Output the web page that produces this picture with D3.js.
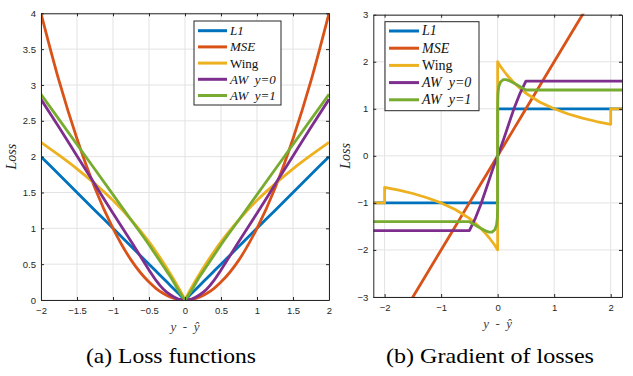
<!DOCTYPE html>
<html>
<head>
<meta charset="utf-8">
<script src="https://cdn.jsdelivr.net/npm/d3@7"></script>
<style>
  body { margin: 0; background: #fff; }
  .tick text { font-family: "Liberation Sans", Arial, sans-serif; font-size: 9.5px; fill: #262626; }
  .serif { font-family: "Liberation Serif", "Times New Roman", serif; }
</style>
</head>
<body>
<div id="chart-area"></div>
<script>
/*
*    two panels: loss functions and their gradients
*/

// series names / colours (MATLAB default order)
var seriesNames = ["L1", "MSE", "Wing", "AW  y=0", "AW  y=1"];
var seriesItalic = [true, true, false, true, true];
var colors = ["#0072BD", "#D95319", "#EDB120", "#7E2F8E", "#77AC30"];

// (a) loss values
var lossX    = [-2, -1.75, -1.5, -1.25, -1, -0.75, -0.5, -0.4, -0.3, -0.2, -0.1, -0.05, 0, 0.05, 0.1, 0.2, 0.3, 0.4, 0.5, 0.75, 1, 1.25, 1.5, 1.75, 2];
var lossL1   = [2, 1.75, 1.5, 1.25, 1, 0.75, 0.5, 0.4, 0.3, 0.2, 0.1, 0.05, 0, 0.05, 0.1, 0.2, 0.3, 0.4, 0.5, 0.75, 1, 1.25, 1.5, 1.75, 2];
var lossMSE  = [4, 3.06, 2.25, 1.56, 1, 0.56, 0.25, 0.16, 0.09, 0.04, 0.01, 0.0025, 0, 0.0025, 0.01, 0.04, 0.09, 0.16, 0.25, 0.56, 1, 1.56, 2.25, 3.06, 4];
var lossWing = [2.2, 2.02, 1.83, 1.62, 1.39, 1.12, 0.81, 0.67, 0.52, 0.36, 0.19, 0.1, 0, 0.1, 0.19, 0.36, 0.52, 0.67, 0.81, 1.12, 1.39, 1.62, 1.83, 2.02, 2.2];
var lossAW0  = [2.8, 2.41, 2.01, 1.61, 1.21, 0.82, 0.42, 0.27, 0.15, 0.07, 0.016, 0.004, 0, 0.004, 0.016, 0.07, 0.15, 0.27, 0.42, 0.82, 1.21, 1.61, 2.01, 2.41, 2.8];
var lossAW1  = [2.87, 2.52, 2.17, 1.82, 1.47, 1.12, 0.77, 0.62, 0.47, 0.32, 0.15, 0.07, 0, 0.07, 0.15, 0.32, 0.47, 0.62, 0.77, 1.12, 1.47, 1.82, 2.17, 2.52, 2.87];

// (b) gradient values (repeated x = jump)
var gradX    = [-2.2, -2, -2, -1.75, -1.5, -1.25, -1, -0.75, -0.5, -0.4, -0.3, -0.2, -0.15, -0.1, -0.05, -0.02, -0.01, -0.005, -0.001, 0,
                0, 0.001, 0.005, 0.01, 0.02, 0.05, 0.1, 0.15, 0.2, 0.3, 0.4, 0.5, 0.75, 1, 1.25, 1.5, 1.75, 2, 2, 2.2];
var gradL1   = [-1, -1, -1, -1, -1, -1, -1, -1, -1, -1, -1, -1, -1, -1, -1, -1, -1, -1, -1, -1,
                1, 1, 1, 1, 1, 1, 1, 1, 1, 1, 1, 1, 1, 1, 1, 1, 1, 1, 1, 1];
var gradMSE  = [-4.4, -4, -4, -3.5, -3, -2.5, -2, -1.5, -1, -0.8, -0.6, -0.4, -0.3, -0.2, -0.1, -0.04, -0.02, -0.01, -0.002, 0,
                0, 0.002, 0.01, 0.02, 0.04, 0.1, 0.2, 0.3, 0.4, 0.6, 0.8, 1, 1.5, 2, 2.5, 3, 3.5, 4, 4, 4.4];
var gradWing = [-1, -1, -0.67, -0.73, -0.8, -0.89, -1, -1.14, -1.33, -1.43, -1.54, -1.67, -1.74, -1.82, -1.9, -1.96, -1.98, -1.99, -2, -2,
                2, 2, 1.99, 1.98, 1.96, 1.9, 1.82, 1.74, 1.67, 1.54, 1.43, 1.33, 1.14, 1, 0.89, 0.8, 0.73, 0.67, 1, 1];
var gradAW0  = [-1.59, -1.59, -1.59, -1.59, -1.59, -1.59, -1.59, -1.59, -1.59, -1.34, -1.04, -0.69, -0.51, -0.33, -0.16, -0.06, -0.03, -0.01, 0, 0,
                0, 0, 0.01, 0.03, 0.06, 0.16, 0.33, 0.51, 0.69, 1.04, 1.34, 1.59, 1.59, 1.59, 1.59, 1.59, 1.59, 1.59, 1.59, 1.59];
var gradAW1  = [-1.4, -1.4, -1.4, -1.4, -1.4, -1.4, -1.4, -1.4, -1.4, -1.47, -1.54, -1.6, -1.62, -1.62, -1.57, -1.47, -1.38, -1.3, -1.1, 0,
                0, 1.1, 1.3, 1.38, 1.47, 1.57, 1.62, 1.62, 1.6, 1.54, 1.47, 1.4, 1.4, 1.4, 1.4, 1.4, 1.4, 1.4, 1.4, 1.4];

// tick values
var lossXTicks = [-2, -1.5, -1, -0.5, 0, 0.5, 1, 1.5, 2];
var lossYTicks = [0, 0.5, 1, 1.5, 2, 2.5, 3, 3.5, 4];
var gradXTicks = [-2, -1, 0, 1, 2];
var gradYTicks = [-3, -2, -1, 0, 1, 2, 3];

var svg = d3.select("#chart-area").append("svg")
    .attr("width", 633)
    .attr("height", 376);

function drawPanel(p) {
    var x = d3.scaleLinear().domain(p.xDomain).range([p.left, p.right]);
    var y = d3.scaleLinear().domain(p.yDomain).range([p.bottom, p.top]);
    var g = svg.append("g");

    // grid
    g.append("g").selectAll("line").data(p.xTicks).enter().append("line")
        .attr("x1", (d) => x(d)).attr("x2", (d) => x(d))
        .attr("y1", p.top).attr("y2", p.bottom)
        .attr("stroke", "#e3e3e3").attr("stroke-width", 1);
    g.append("g").selectAll("line").data(p.yTicks).enter().append("line")
        .attr("x1", p.left).attr("x2", p.right)
        .attr("y1", (d) => y(d)).attr("y2", (d) => y(d))
        .attr("stroke", "#e3e3e3").attr("stroke-width", 1);

    // clip for the lines
    var clipId = "clip-" + p.id;
    svg.append("clipPath").attr("id", clipId)
        .append("rect")
        .attr("x", p.left).attr("y", p.top - 1)
        .attr("width", p.right - p.left).attr("height", p.bottom - p.top + 2);

    var lines = g.append("g").attr("clip-path", "url(#" + clipId + ")");
    p.series.forEach((vals, i) => {
        var pts = p.xs.map((xv, j) => ({x: xv, y: vals[j]}));
        var parts = p.split ? [pts.filter((d) => d.x <= 0), pts.filter((d) => d.x >= 0)] : [pts];
        var line = d3.line()
            .x((d) => x(d.x))
            .y((d) => y(d.y))
            .curve(p.split ? d3.curveMonotoneX : d3.curveLinear);
        parts.forEach((part) => {
            lines.append("path")
                .attr("fill", "none")
                .attr("stroke", colors[i])
                .attr("stroke-width", 2.8)
                .attr("stroke-linejoin", "round")
                .attr("d", line(part));
        });
    });

    // axes (inward ticks, box on)
    g.append("g")
        .attr("transform", "translate(0," + p.bottom + ")")
        .call(d3.axisBottom(x).tickValues(p.xTicks).tickSize(-3).tickSizeOuter(0).tickPadding(7).tickFormat(d3.format("")));
    g.append("g")
        .attr("transform", "translate(" + p.left + ",0)")
        .call(d3.axisLeft(y).tickValues(p.yTicks).tickSize(-3).tickSizeOuter(0).tickPadding(5).tickFormat(d3.format("")));
    g.append("g")
        .attr("transform", "translate(0," + p.top + ")")
        .call(d3.axisTop(x).tickValues(p.xTicks).tickSize(-3).tickSizeOuter(0).tickFormat(""));
    g.append("g")
        .attr("transform", "translate(" + p.right + ",0)")
        .call(d3.axisRight(y).tickValues(p.yTicks).tickSize(-3).tickSizeOuter(0).tickFormat(""));
    g.selectAll(".domain, .tick line").attr("stroke", "#262626");

    // axis titles
    g.append("text")
        .attr("class", "serif")
        .attr("transform", "translate(" + p.yLabelX + "," + ((p.top + p.bottom) / 2) + ") rotate(-90)")
        .attr("text-anchor", "middle")
        .attr("font-style", "italic")
        .attr("font-size", 14)
        .attr("fill", "#262626")
        .text("Loss");
    g.append("text")
        .attr("class", "serif")
        .attr("x", (p.left + p.right) / 2)
        .attr("y", p.bottom + 31)
        .attr("text-anchor", "middle")
        .attr("font-style", "italic")
        .attr("font-size", 13)
        .attr("xml:space", "preserve")
        .attr("fill", "#404040")
        .text("y  -  \u0177");

    // legend
    var lg = g.append("g").attr("transform", "translate(" + p.legend.x + "," + p.legend.y + ")");
    lg.append("rect")
        .attr("width", p.legend.w).attr("height", p.legend.h)
        .attr("fill", "#fff").attr("stroke", "#262626").attr("stroke-width", 1);
    seriesNames.forEach((name, i) => {
        var yy = p.legend.first + i * p.legend.step;
        lg.append("line")
            .attr("x1", 4).attr("x2", 4 + p.legend.len)
            .attr("y1", yy).attr("y2", yy)
            .attr("stroke", colors[i]).attr("stroke-width", 3);
        lg.append("text")
            .attr("class", "serif")
            .attr("x", p.legend.len + 7)
            .attr("y", yy + 4.5)
            .attr("font-size", p.legend.font)
            .attr("font-style", seriesItalic[i] ? "italic" : "normal")
            .attr("xml:space", "preserve")
            .attr("fill", "#111")
            .text(name);
    });

    // caption
    svg.append("text")
        .attr("class", "serif")
        .attr("x", p.captionX)
        .attr("y", 363)
        .attr("text-anchor", "middle")
        .attr("font-size", 21)
        .attr("textLength", p.captionW)
        .attr("lengthAdjust", "spacingAndGlyphs")
        .attr("fill", "#000")
        .text(p.caption);
}

drawPanel({
    id: "loss", left: 41, right: 329, top: 13.3, bottom: 300,
    xDomain: [-2, 2], yDomain: [0, 4], xTicks: lossXTicks, yTicks: lossYTicks,
    xs: lossX, series: [lossL1, lossMSE, lossWing, lossAW0, lossAW1], split: true,
    yLabelX: 16,
    legend: {x: 194, y: 21, w: 87, h: 84, first: 9.7, step: 16.2, len: 29, font: 13},
    caption: "(a) Loss functions", captionX: 171, captionW: 170
});

drawPanel({
    id: "grad", left: 373.3, right: 622, top: 14.7, bottom: 297,
    xDomain: [-2.2, 2.2], yDomain: [-3, 3], xTicks: gradXTicks, yTicks: gradYTicks,
    xs: gradX, series: [gradL1, gradMSE, gradWing, gradAW0, gradAW1], split: false,
    yLabelX: 350,
    legend: {x: 385, y: 21.7, w: 94, h: 89, first: 9.3, step: 17.2, len: 30, font: 14},
    caption: "(b) Gradient of losses", captionX: 490, captionW: 208
});
</script>
</body>
</html>
